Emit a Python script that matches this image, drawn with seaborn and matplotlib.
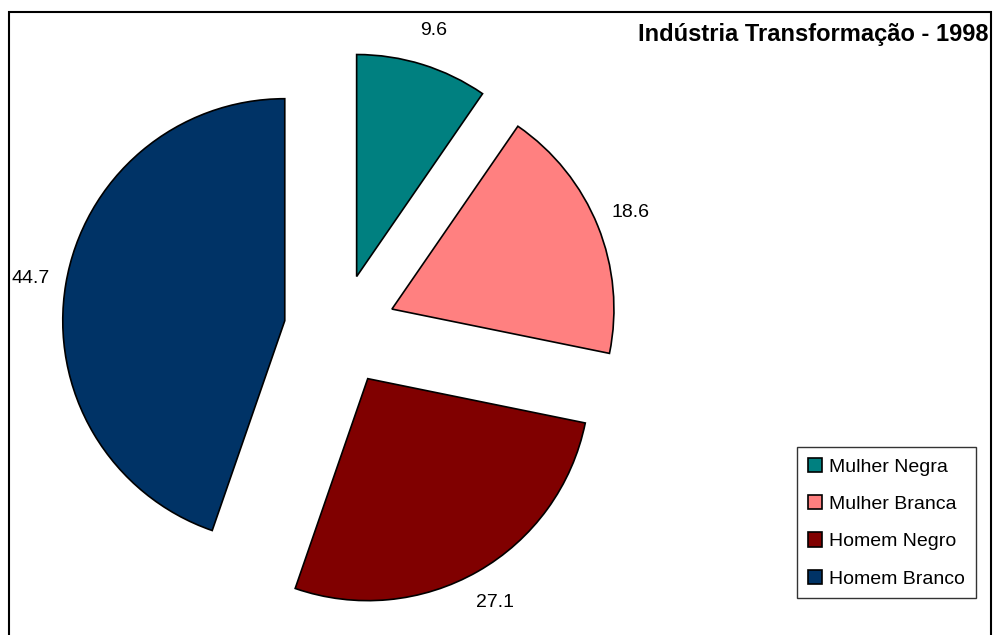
import matplotlib
matplotlib.use("Agg")
import matplotlib.pyplot as plt
import seaborn as sns
from matplotlib.patches import Patch, Rectangle

categories = ["Mulher Negra", "Mulher Branca", "Homem Negro", "Homem Branco"]
values = [9.6, 18.6, 27.1, 44.7]
colors = ["#008080", "#FF8080", "#800000", "#003366"]
title = "Indústria Transformação - 1998"

sns.set_theme(style="white")
plt.rcParams["font.family"] = ["Liberation Sans", "DejaVu Sans"]
plt.rcParams["text.color"] = "black"

W, H = 993, 635
fig = plt.figure(figsize=(W / 100, H / 100), dpi=100)
ax = fig.add_axes([0, 0, 1, 1])

R = 222
wedges, texts, autotexts = ax.pie(
    values,
    colors=colors,
    startangle=90,
    counterclock=False,
    radius=R,
    center=(340, H - 330),
    explode=[56] * len(values),
    autopct=lambda p: f"{p:.1f}",
    pctdistance=1.16,
    wedgeprops=dict(edgecolor="black", linewidth=1.2),
    textprops=dict(fontsize=14, color="black"),
)
ax.set_xlim(0, W)
ax.set_ylim(0, H)
ax.set_aspect("equal")
ax.axis("off")

# outer chart border
fig.patches.append(Rectangle((9 / W, -0.01), (991 - 9) / W, (H - 12) / H + 0.01,
                             transform=fig.transFigure, fill=False,
                             edgecolor="black", linewidth=1.5))

fig.text(988 / W, 1 - 35 / H, title, ha="right", va="center",
         fontsize=17, fontweight="bold", color="black")

handles = [Patch(facecolor=c, edgecolor="black", linewidth=1.2) for c in colors]
leg = fig.legend(handles, categories, loc="upper left",
                 bbox_to_anchor=(797 / W, 1 - 447 / H),
                 fontsize=14, frameon=True, fancybox=False,
                 edgecolor="black", handlelength=0.75, handleheight=0.75,
                 handletextpad=0.35, labelspacing=1.0, borderpad=0.55,
                 borderaxespad=0, labelcolor="black")
leg.get_frame().set_linewidth(1.0)

fig.savefig("out.png", dpi=100, facecolor="white")
